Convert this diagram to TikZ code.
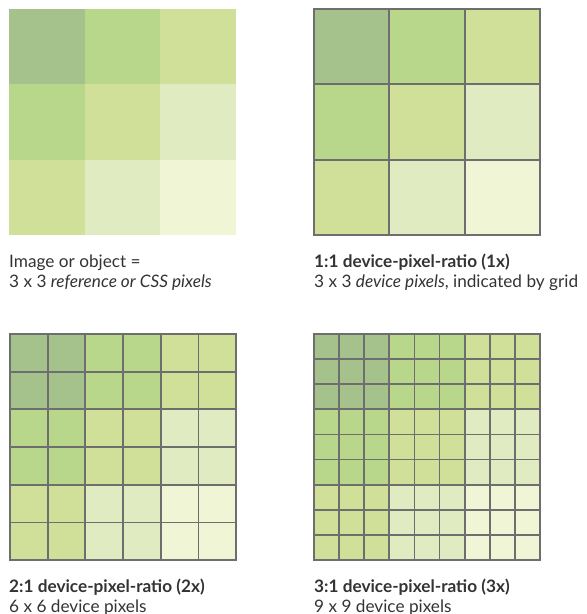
\documentclass[tikz,border=0pt]{standalone}
\usepackage{fontspec}
\setmainfont{Lato}
\usepackage{tikz}
\usetikzlibrary{positioning}
\definecolor{shade0}{HTML}{A5C28C}
\definecolor{shade1}{HTML}{B8D78A}
\definecolor{shade2}{HTML}{D0E098}
\definecolor{shade3}{HTML}{E0EBC2}
\definecolor{shade4}{HTML}{F0F5D6}
\definecolor{gridline}{HTML}{6E6E6E}
\definecolor{captext}{HTML}{333333}

\begin{document}
\begin{tikzpicture}[
  x=1pt, y=-1pt,
  cell/.style    = {draw=gridline, line width=1.7pt},
  captxt/.style  = {anchor=base west, inner sep=0pt, text=captext, font=\fontsize{17.2}{20}\selectfont},
  bcaptxt/.style = {captxt, font=\fontsize{17.2}{20}\selectfont\bfseries},
]
\useasboundingbox (0,0) rectangle (587,614);
%%--- Image or object: 3 x 3 reference pixels, no grid ---
\foreach \i in {0,1,2} {
  \foreach \j in {0,1,2} {
    \pgfmathtruncatemacro{\lvl}{\i+\j}
    \fill[shade\lvl] (9+\i*75.67, 9+\j*75.33) rectangle ++(75.67,75.33);
  }
}
\node[captxt] (obja) at (9, 267) {Image or object =};
\node[captxt] (objb) at (9, 287) {3 x 3 \textit{reference or CSS pixels}};
%%--- 1:1 device-pixel-ratio ---
\foreach \i in {0,...,2} {
  \foreach \j in {0,...,2} {
    \pgfmathtruncatemacro{\lvl}{\i+\j}
    \filldraw[cell, fill=shade\lvl] (314+\i*75.33, 9+\j*75.33) rectangle ++(75.33,75.33);
  }
}
\node[bcaptxt] (onea) at (314, 267) {1:1 device-pixel-ratio (1x)};
\node[captxt]  (oneb) at (314, 287) {3 x 3 \textit{device pixels}, indicated by grid};
%%--- 2:1 device-pixel-ratio ---
\foreach \i in {0,...,5} {
  \foreach \j in {0,...,5} {
    \pgfmathtruncatemacro{\lvl}{int(\i/2)+int(\j/2)}
    \filldraw[cell, fill=shade\lvl] (10+\i*37.67, 334+\j*37.67) rectangle ++(37.67,37.67);
  }
}
\node[bcaptxt] (twoa) at (9, 592) {2:1 device-pixel-ratio (2x)};
\node[captxt]  (twob) at (9, 612.5) {6 x 6 device pixels};
%%--- 3:1 device-pixel-ratio ---
\foreach \i in {0,...,8} {
  \foreach \j in {0,...,8} {
    \pgfmathtruncatemacro{\lvl}{int(\i/3)+int(\j/3)}
    \filldraw[cell, fill=shade\lvl] (314+\i*25.11, 334+\j*25.11) rectangle ++(25.11,25.11);
  }
}
\node[bcaptxt] (threea) at (314, 592) {3:1 device-pixel-ratio (3x)};
\node[captxt]  (threeb) at (314, 612.5) {9 x 9 device pixels};
\end{tikzpicture}
\end{document}
